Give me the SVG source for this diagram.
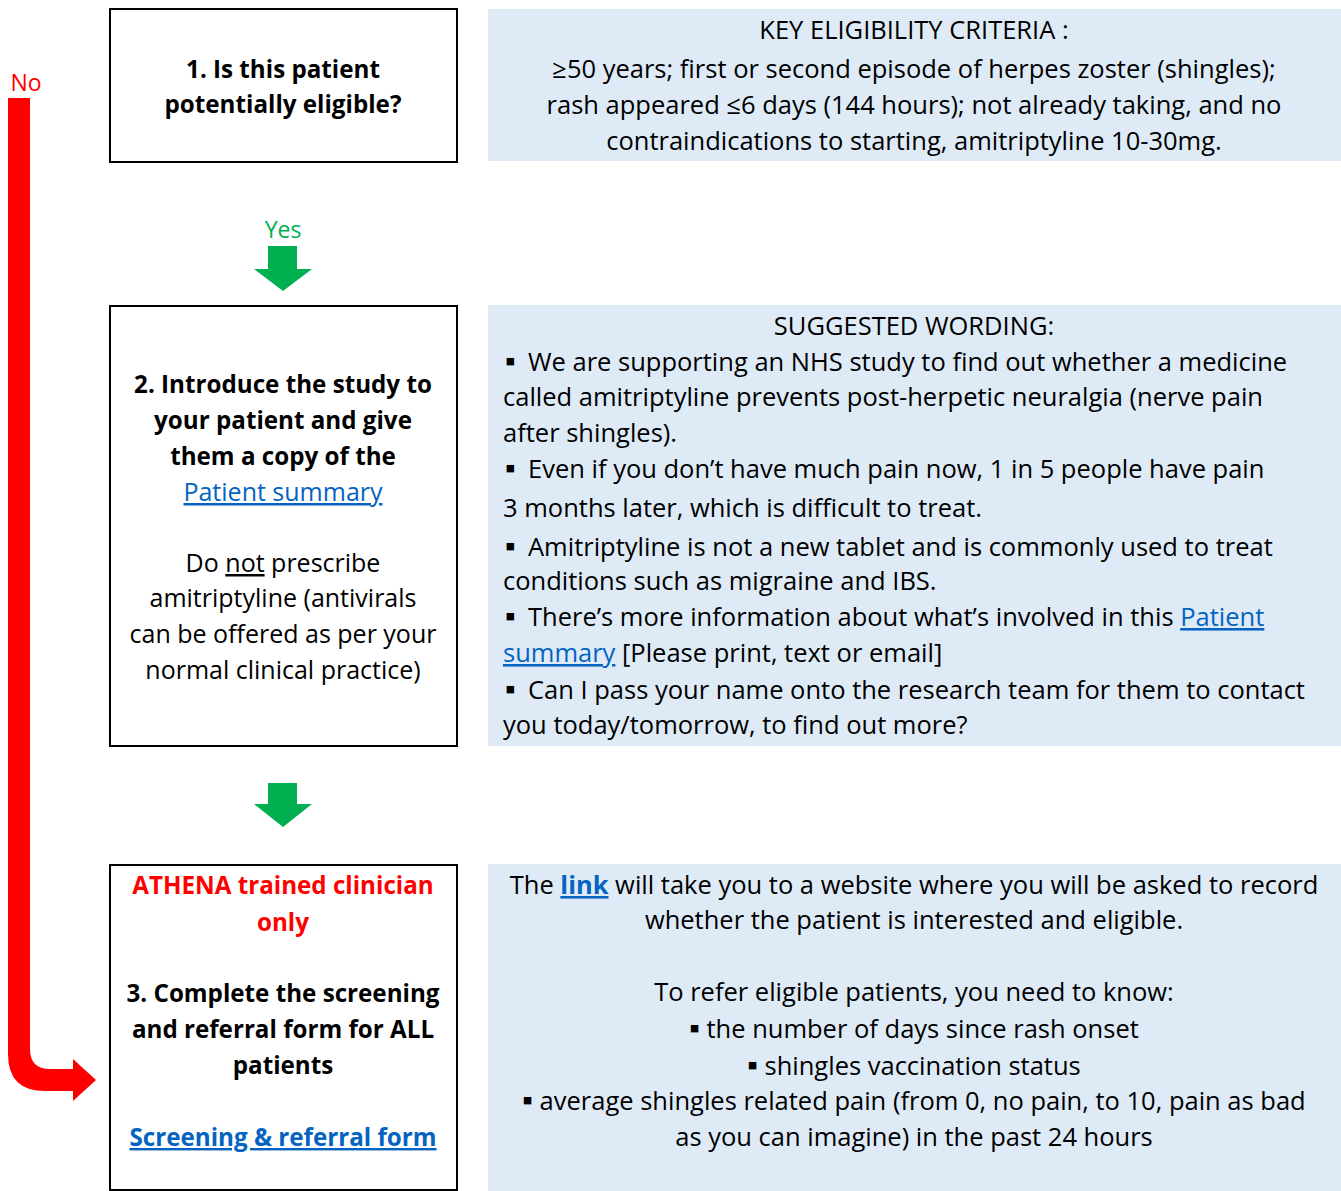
<svg xmlns="http://www.w3.org/2000/svg" width="1341" height="1191" viewBox="0 0 1341 1191">
<style>
.t{font-family:"Open Sans","Liberation Sans",sans-serif;font-size:25.5px;fill:#000}
.s{font-size:25px}
.c{text-anchor:middle}
.b{font-weight:bold;font-size:24.2px}
.lnk{fill:#0563C1;text-decoration:underline}
.box{fill:#fff;stroke:#000;stroke-width:2}
.panel{fill:#DEEBF7}
.g{fill:#00B050}
.bul{font-size:30px}
</style>
<rect width="1341" height="1191" fill="#fff"/>
<g id="connectors">
<path d="M8,98 H30 V1049 Q30,1069 50,1069 H73 V1059 L96,1080 L73,1101 V1091 H45 Q8,1091 8,1054 Z" fill="#FF0000"/>
<text class="t" x="26" y="91" text-anchor="middle" style="fill:#FF0000;font-size:23px">No</text>
<text class="t c" x="283" y="238" style="fill:#00B050;font-size:23px">Yes</text>
<path class="g" d="M268,246 H297 V269 H312 L283,291 L254,269 H268 Z"/>
<path class="g" d="M268,783 H297 V804 H312 L283,827 L254,804 H268 Z"/>
</g>
<g id="node1">
<rect class="box" x="110" y="9" width="347" height="153"/>
<text class="t c b" x="283" y="78">1. Is this patient</text>
<text class="t c b" x="283" y="113">potentially eligible?</text>
</g>
<g id="criteria">
<rect class="panel" x="488" y="9" width="853" height="152"/>
<text class="t c" x="914" y="39">KEY ELIGIBILITY CRITERIA :</text>
<text class="t c" x="914" y="78">≥50 years; first or second episode of herpes zoster (shingles);</text>
<text class="t c" x="914" y="114">rash appeared ≤6 days (144 hours); not already taking, and no</text>
<text class="t c" x="914" y="150">contraindications to starting, amitriptyline 10-30mg.</text>
</g>
<g id="node2">
<rect class="box" x="110" y="306" width="347" height="440"/>
<text class="t c b" x="283" y="393">2. Introduce the study to</text>
<text class="t c b" x="283" y="429">your patient and give</text>
<text class="t c b" x="283" y="465">them a copy of the</text>
<text class="t c s lnk" x="283" y="501">Patient summary</text>
<text class="t c s" x="283" y="572">Do <tspan text-decoration="underline">not</tspan> prescribe</text>
<text class="t c s" x="283" y="607">amitriptyline (antivirals</text>
<text class="t c s" x="283" y="643">can be offered as per your</text>
<text class="t c s" x="283" y="679">normal clinical practice)</text>
</g>
<g id="wording">
<rect class="panel" x="488" y="305" width="853" height="441"/>
<text class="t c" x="914" y="335">SUGGESTED WORDING:</text>
<text class="t" y="371"><tspan class="bul" x="505">▪</tspan><tspan x="528">We are supporting an NHS study to find out whether a medicine</tspan></text>
<text class="t" x="503" y="406">called amitriptyline prevents post-herpetic neuralgia (nerve pain</text>
<text class="t" x="503" y="442">after shingles).</text>
<text class="t" y="478"><tspan class="bul" x="505">▪</tspan><tspan x="528">Even if you don’t have much pain now, 1 in 5 people have pain</tspan></text>
<text class="t" x="503" y="517">3 months later, which is difficult to treat.</text>
<text class="t" y="556"><tspan class="bul" x="505">▪</tspan><tspan x="528">Amitriptyline is not a new tablet and is commonly used to treat</tspan></text>
<text class="t" x="503" y="590">conditions such as migraine and IBS.</text>
<text class="t" y="626"><tspan class="bul" x="505">▪</tspan><tspan x="528">There’s more information about what’s involved in this </tspan><tspan class="lnk">Patient</tspan></text>
<text class="t" x="503" y="662"><tspan class="lnk">summary</tspan> [Please print, text or email]</text>
<text class="t" y="699"><tspan class="bul" x="505">▪</tspan><tspan x="528">Can I pass your name onto the research team for them to contact</tspan></text>
<text class="t" x="503" y="734">you today/tomorrow, to find out more?</text>
</g>
<g id="node3">
<rect class="box" x="110" y="865" width="347" height="325"/>
<text class="t c b" x="283" y="894" style="fill:#FF0000">ATHENA trained clinician</text>
<text class="t c b" x="283" y="931" style="fill:#FF0000">only</text>
<text class="t c b" x="283" y="1002">3. Complete the screening</text>
<text class="t c b" x="283" y="1038">and referral form for ALL</text>
<text class="t c b" x="283" y="1074">patients</text>
<text class="t c b lnk" x="283" y="1146">Screening &amp; referral form</text>
</g>
<g id="referral">
<rect class="panel" x="488" y="864" width="853" height="327"/>
<text class="t c" x="914" y="894">The <tspan class="b lnk" style="font-size:25.5px">link</tspan> will take you to a website where you will be asked to record</text>
<text class="t c" x="914" y="929">whether the patient is interested and eligible.</text>
<text class="t c" x="914" y="1001">To refer eligible patients, you need to know:</text>
<text class="t c" x="914" y="1038"><tspan class="bul">▪</tspan> the number of days since rash onset</text>
<text class="t c" x="914" y="1075"><tspan class="bul">▪</tspan> shingles vaccination status</text>
<text class="t c" x="914" y="1110"><tspan class="bul">▪</tspan> average shingles related pain (from 0, no pain, to 10, pain as bad</text>
<text class="t c" x="914" y="1146">as you can imagine) in the past 24 hours</text>
</g>
</svg>
